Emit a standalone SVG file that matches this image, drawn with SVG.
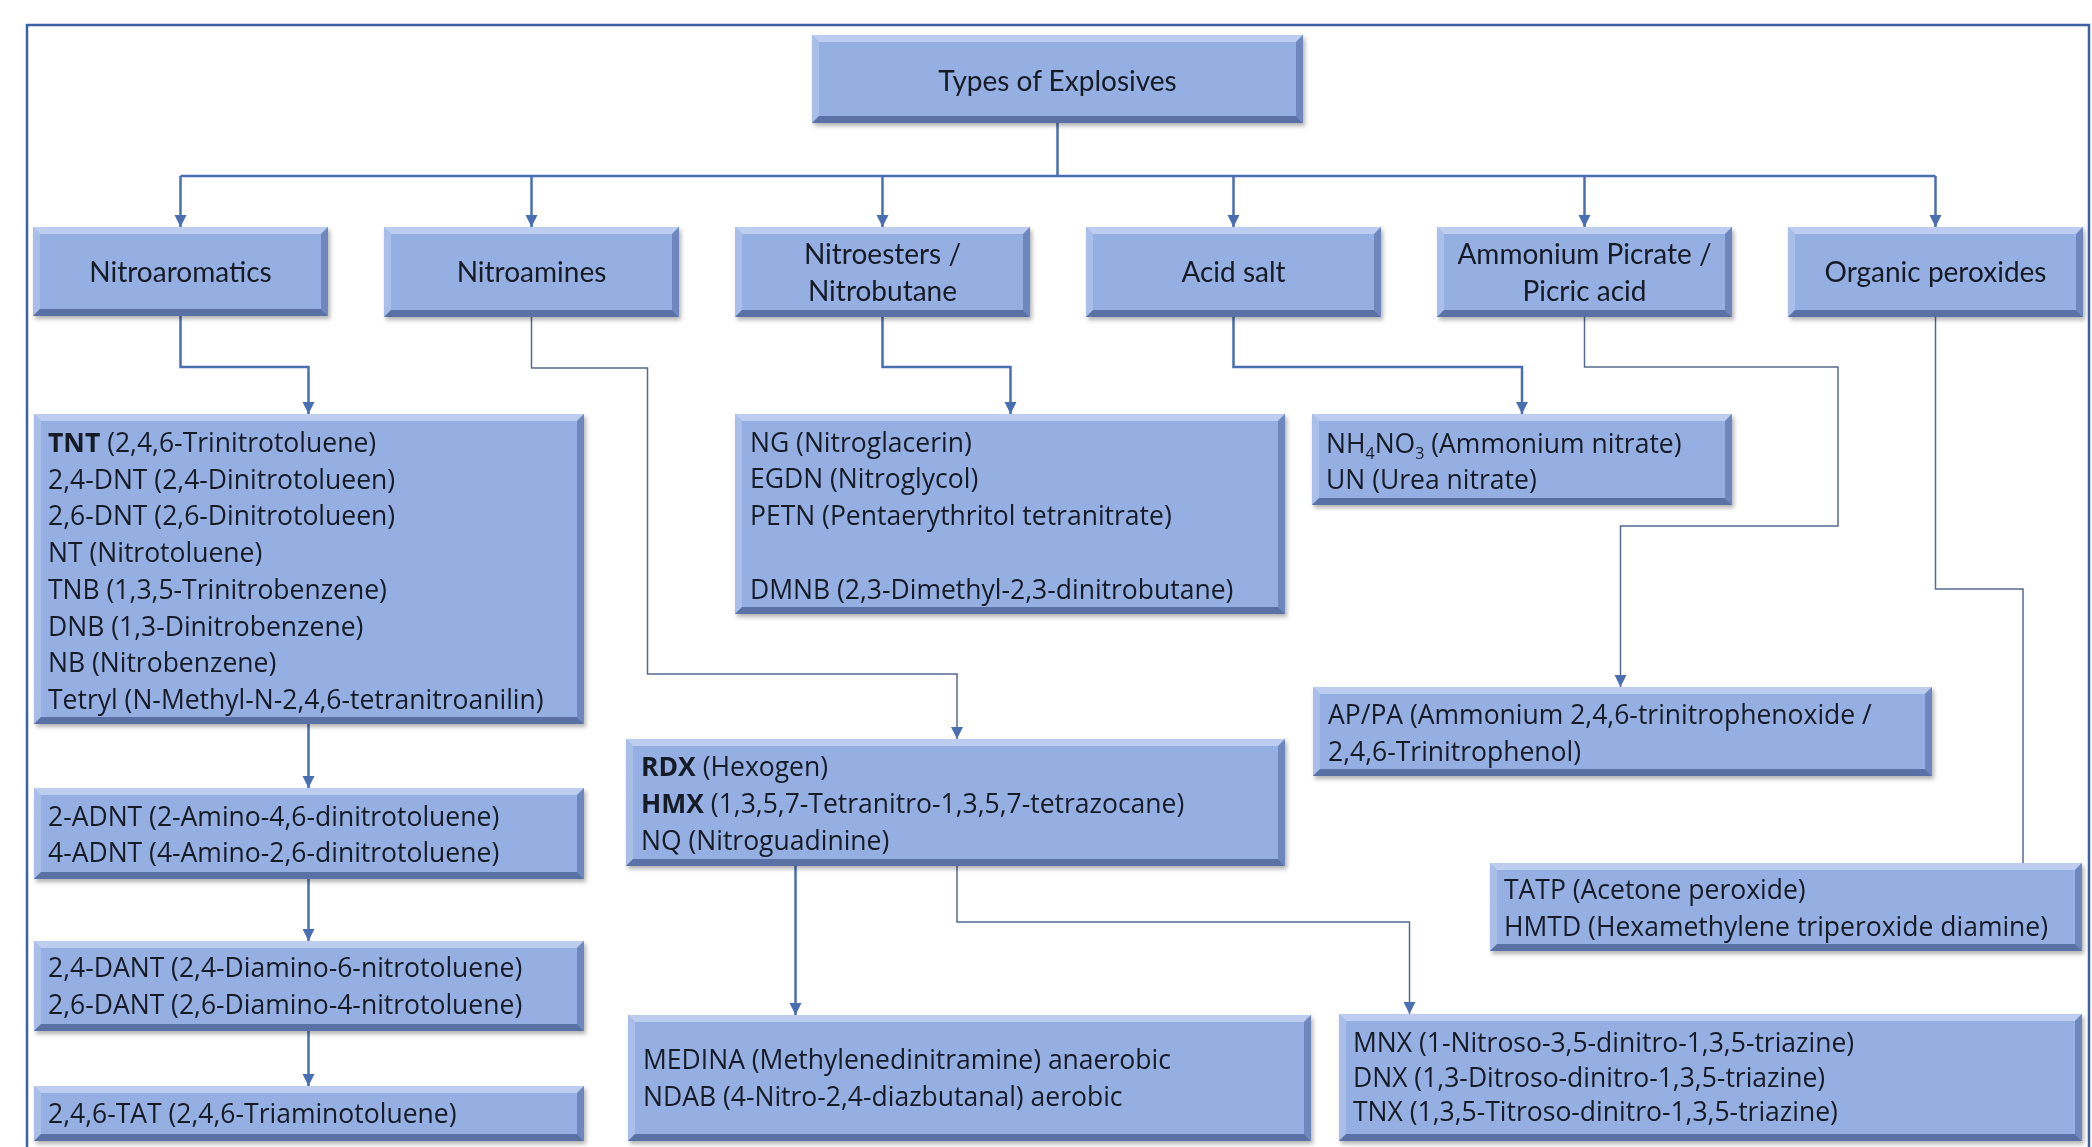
<svg xmlns="http://www.w3.org/2000/svg" width="2092" height="1147" viewBox="0 0 2092 1147">
<defs>
<style>
.bf{fill:#95afe3}
.bt{fill:#bccdf0}
.bl{fill:#a9bfea}
.br{fill:#6e88bf}
.bb{fill:#5a71a5}
.node{filter:url(#sh)}
text{font-family:Lato,"Liberation Sans",Arial,sans-serif;fill:#151a26}
.h{font-size:28px;text-anchor:middle}
.d{font-family:"Open Sans","Noto Sans","Liberation Sans",sans-serif;font-size:26.5px}
.b{font-weight:bold}
.sub{font-size:16px}
.thick{fill:none;stroke:#4a6fb0;stroke-width:2.5}
.thin{fill:none;stroke:#56698f;stroke-width:1.5}
</style>
<filter id="sh" x="-5%" y="-5%" width="110%" height="120%">
<feDropShadow dx="2" dy="3" stdDeviation="2" flood-color="#000" flood-opacity="0.3"/>
</filter>
</defs>
<rect width="2092" height="1147" fill="#ffffff"/>
<rect x="27" y="25" width="2062" height="1140" fill="none" stroke="#3d5fa3" stroke-width="2.5"/>

<g id="connectors">
<path class="thick" d="M1057.5 123 V176"/>
<path class="thick" d="M180.5 176 H1935.5"/>
<path class="thick" d="M180.5 176 V227"/>
<path class="thick" d="M531.5 176 V227"/>
<path class="thick" d="M882.5 176 V227"/>
<path class="thick" d="M1233.5 176 V227"/>
<path class="thick" d="M1584.5 176 V227"/>
<path class="thick" d="M1935.5 176 V227"/>
<path class="thick" d="M180.5 316 V367 H308.5 V414"/>
<path class="thick" d="M882.5 317 V367 H1010.5 V414"/>
<path class="thick" d="M1233.5 317 V367 H1522 V414"/>
<path class="thick" d="M308.5 724 V788"/>
<path class="thick" d="M308.5 879 V941"/>
<path class="thick" d="M308.5 1031 V1086"/>
<path class="thick" d="M795.5 866 V1015"/>
<path class="thin" d="M531.5 317 V368 H647.5 V674 H957 V739"/>
<path class="thin" d="M1584.5 317 V367 H1838 V526 H1620.5 V687"/>
<path class="thin" d="M1935.5 317 V589 H2023 V863"/>
<path class="thin" d="M957 866 V922 H1409.5 V1014"/>
<g fill="#4a6fb0">
<path d="M174.5 215 L186.5 215 L180.5 227 Z"/>
<path d="M525.5 215 L537.5 215 L531.5 227 Z"/>
<path d="M876.5 215 L888.5 215 L882.5 227 Z"/>
<path d="M1227.5 215 L1239.5 215 L1233.5 227 Z"/>
<path d="M1578.5 215 L1590.5 215 L1584.5 227 Z"/>
<path d="M1929.5 215 L1941.5 215 L1935.5 227 Z"/>
<path d="M302.5 402 L314.5 402 L308.5 414 Z"/>
<path d="M1004.5 402 L1016.5 402 L1010.5 414 Z"/>
<path d="M1516 402 L1528 402 L1522 414 Z"/>
<path d="M302.5 776 L314.5 776 L308.5 788 Z"/>
<path d="M302.5 929 L314.5 929 L308.5 941 Z"/>
<path d="M302.5 1074 L314.5 1074 L308.5 1086 Z"/>
<path d="M789.5 1003 L801.5 1003 L795.5 1015 Z"/>
<path d="M951 727 L963 727 L957 739 Z"/>
<path d="M1614.5 675 L1626.5 675 L1620.5 687 Z"/>
<path d="M1403.5 1002 L1415.5 1002 L1409.5 1014 Z"/>
</g>
</g>

<g id="root" class="node">
<rect class="bf" x="812" y="35" width="491" height="88"/>
<polygon class="bt" points="812,35 1303,35 1296,42 819,42"/>
<polygon class="bl" points="812,35 819,42 819,116 812,123"/>
<polygon class="br" points="1303,35 1303,123 1296,116 1296,42"/>
<polygon class="bb" points="812,123 1303,123 1296,116 819,116"/>
<text class="h" x="1057.5" y="91">Types of Explosives</text>
</g>

<g id="nitroaromatics" class="node">
<rect class="bf" x="33" y="227" width="295" height="89"/>
<polygon class="bt" points="33,227 328,227 321,234 40,234"/>
<polygon class="bl" points="33,227 40,234 40,309 33,316"/>
<polygon class="br" points="328,227 328,316 321,309 321,234"/>
<polygon class="bb" points="33,316 328,316 321,309 40,309"/>
<text class="h" x="180.5" y="282">Nitroaromatics</text>
</g>

<g id="nitroamines" class="node">
<rect class="bf" x="384" y="227" width="295" height="90"/>
<polygon class="bt" points="384,227 679,227 672,234 391,234"/>
<polygon class="bl" points="384,227 391,234 391,310 384,317"/>
<polygon class="br" points="679,227 679,317 672,310 672,234"/>
<polygon class="bb" points="384,317 679,317 672,310 391,310"/>
<text class="h" x="531.5" y="282">Nitroamines</text>
</g>

<g id="nitroesters" class="node">
<rect class="bf" x="735" y="227" width="295" height="90"/>
<polygon class="bt" points="735,227 1030,227 1023,234 742,234"/>
<polygon class="bl" points="735,227 742,234 742,310 735,317"/>
<polygon class="br" points="1030,227 1030,317 1023,310 1023,234"/>
<polygon class="bb" points="735,317 1030,317 1023,310 742,310"/>
<text class="h" x="882.5" y="264">Nitroesters /</text>
<text class="h" x="882.5" y="301">Nitrobutane</text>
</g>

<g id="acidsalt" class="node">
<rect class="bf" x="1086" y="227" width="295" height="90"/>
<polygon class="bt" points="1086,227 1381,227 1374,234 1093,234"/>
<polygon class="bl" points="1086,227 1093,234 1093,310 1086,317"/>
<polygon class="br" points="1381,227 1381,317 1374,310 1374,234"/>
<polygon class="bb" points="1086,317 1381,317 1374,310 1093,310"/>
<text class="h" x="1233.5" y="282">Acid salt</text>
</g>

<g id="picrate" class="node">
<rect class="bf" x="1437" y="227" width="295" height="90"/>
<polygon class="bt" points="1437,227 1732,227 1725,234 1444,234"/>
<polygon class="bl" points="1437,227 1444,234 1444,310 1437,317"/>
<polygon class="br" points="1732,227 1732,317 1725,310 1725,234"/>
<polygon class="bb" points="1437,317 1732,317 1725,310 1444,310"/>
<text class="h" x="1584.5" y="264">Ammonium Picrate /</text>
<text class="h" x="1584.5" y="301">Picric acid</text>
</g>

<g id="peroxides" class="node">
<rect class="bf" x="1788" y="227" width="295" height="90"/>
<polygon class="bt" points="1788,227 2083,227 2076,234 1795,234"/>
<polygon class="bl" points="1788,227 1795,234 1795,310 1788,317"/>
<polygon class="br" points="2083,227 2083,317 2076,310 2076,234"/>
<polygon class="bb" points="1788,317 2083,317 2076,310 1795,310"/>
<text class="h" x="1935.5" y="282">Organic peroxides</text>
</g>

<g id="tnt" class="node">
<rect class="bf" x="34" y="414" width="550" height="310"/>
<polygon class="bt" points="34,414 584,414 577,421 41,421"/>
<polygon class="bl" points="34,414 41,421 41,717 34,724"/>
<polygon class="br" points="584,414 584,724 577,717 577,421"/>
<polygon class="bb" points="34,724 584,724 577,717 41,717"/>
<text class="d" x="48" y="452"><tspan class="b">TNT</tspan> (2,4,6-Trinitrotoluene)</text>
<text class="d" x="48" y="488.7">2,4-DNT (2,4-Dinitrotolueen)</text>
<text class="d" x="48" y="525.4">2,6-DNT (2,6-Dinitrotolueen)</text>
<text class="d" x="48" y="562.1">NT (Nitrotoluene)</text>
<text class="d" x="48" y="598.8">TNB (1,3,5-Trinitrobenzene)</text>
<text class="d" x="48" y="635.5">DNB (1,3-Dinitrobenzene)</text>
<text class="d" x="48" y="672.2">NB (Nitrobenzene)</text>
<text class="d" x="48" y="709">Tetryl (N-Methyl-N-2,4,6-tetranitroanilin)</text>
</g>

<g id="adnt" class="node">
<rect class="bf" x="34" y="788" width="550" height="91"/>
<polygon class="bt" points="34,788 584,788 577,795 41,795"/>
<polygon class="bl" points="34,788 41,795 41,872 34,879"/>
<polygon class="br" points="584,788 584,879 577,872 577,795"/>
<polygon class="bb" points="34,879 584,879 577,872 41,872"/>
<text class="d" x="48" y="826">2-ADNT (2-Amino-4,6-dinitrotoluene)</text>
<text class="d" x="48" y="862">4-ADNT (4-Amino-2,6-dinitrotoluene)</text>
</g>

<g id="dant" class="node">
<rect class="bf" x="34" y="941" width="550" height="90"/>
<polygon class="bt" points="34,941 584,941 577,948 41,948"/>
<polygon class="bl" points="34,941 41,948 41,1024 34,1031"/>
<polygon class="br" points="584,941 584,1031 577,1024 577,948"/>
<polygon class="bb" points="34,1031 584,1031 577,1024 41,1024"/>
<text class="d" x="48" y="977">2,4-DANT (2,4-Diamino-6-nitrotoluene)</text>
<text class="d" x="48" y="1014">2,6-DANT (2,6-Diamino-4-nitrotoluene)</text>
</g>

<g id="tat" class="node">
<rect class="bf" x="34" y="1086" width="550" height="55"/>
<polygon class="bt" points="34,1086 584,1086 577,1093 41,1093"/>
<polygon class="bl" points="34,1086 41,1093 41,1134 34,1141"/>
<polygon class="br" points="584,1086 584,1141 577,1134 577,1093"/>
<polygon class="bb" points="34,1141 584,1141 577,1134 41,1134"/>
<text class="d" x="48" y="1123">2,4,6-TAT (2,4,6-Triaminotoluene)</text>
</g>

<g id="ng" class="node">
<rect class="bf" x="735" y="414" width="550" height="200"/>
<polygon class="bt" points="735,414 1285,414 1278,421 742,421"/>
<polygon class="bl" points="735,414 742,421 742,607 735,614"/>
<polygon class="br" points="1285,414 1285,614 1278,607 1278,421"/>
<polygon class="bb" points="735,614 1285,614 1278,607 742,607"/>
<text class="d" x="750" y="452">NG (Nitroglacerin)</text>
<text class="d" x="750" y="488">EGDN (Nitroglycol)</text>
<text class="d" x="750" y="525">PETN (Pentaerythritol tetranitrate)</text>
<text class="d" x="750" y="599">DMNB (2,3-Dimethyl-2,3-dinitrobutane)</text>
</g>

<g id="rdx" class="node">
<rect class="bf" x="626" y="739" width="659" height="127"/>
<polygon class="bt" points="626,739 1285,739 1278,746 633,746"/>
<polygon class="bl" points="626,739 633,746 633,859 626,866"/>
<polygon class="br" points="1285,739 1285,866 1278,859 1278,746"/>
<polygon class="bb" points="626,866 1285,866 1278,859 633,859"/>
<text class="d" x="641" y="776"><tspan class="b">RDX</tspan> (Hexogen)</text>
<text class="d" x="641" y="813"><tspan class="b">HMX</tspan> (1,3,5,7-Tetranitro-1,3,5,7-tetrazocane)</text>
<text class="d" x="641" y="850">NQ (Nitroguadinine)</text>
</g>

<g id="medina" class="node">
<rect class="bf" x="628" y="1015" width="683" height="126"/>
<polygon class="bt" points="628,1015 1311,1015 1304,1022 635,1022"/>
<polygon class="bl" points="628,1015 635,1022 635,1134 628,1141"/>
<polygon class="br" points="1311,1015 1311,1141 1304,1134 1304,1022"/>
<polygon class="bb" points="628,1141 1311,1141 1304,1134 635,1134"/>
<text class="d" x="643" y="1069">MEDINA (Methylenedinitramine) anaerobic</text>
<text class="d" x="643" y="1106">NDAB (4-Nitro-2,4-diazbutanal) aerobic</text>
</g>

<g id="nh4no3" class="node">
<rect class="bf" x="1312" y="414" width="420" height="91"/>
<polygon class="bt" points="1312,414 1732,414 1725,421 1319,421"/>
<polygon class="bl" points="1312,414 1319,421 1319,498 1312,505"/>
<polygon class="br" points="1732,414 1732,505 1725,498 1725,421"/>
<polygon class="bb" points="1312,505 1732,505 1725,498 1319,498"/>
<text class="d" x="1326" y="453">NH<tspan class="sub" dy="6">4</tspan><tspan dy="-6">NO</tspan><tspan class="sub" dy="6">3</tspan><tspan dy="-6"> (Ammonium nitrate)</tspan></text>
<text class="d" x="1326" y="489">UN (Urea nitrate)</text>
</g>

<g id="appa" class="node">
<rect class="bf" x="1313" y="687" width="619" height="89"/>
<polygon class="bt" points="1313,687 1932,687 1925,694 1320,694"/>
<polygon class="bl" points="1313,687 1320,694 1320,769 1313,776"/>
<polygon class="br" points="1932,687 1932,776 1925,769 1925,694"/>
<polygon class="bb" points="1313,776 1932,776 1925,769 1320,769"/>
<text class="d" x="1328" y="724">AP/PA (Ammonium 2,4,6-trinitrophenoxide /</text>
<text class="d" x="1328" y="761">2,4,6-Trinitrophenol)</text>
</g>

<g id="tatp" class="node">
<rect class="bf" x="1490" y="863" width="592" height="88"/>
<polygon class="bt" points="1490,863 2082,863 2075,870 1497,870"/>
<polygon class="bl" points="1490,863 1497,870 1497,944 1490,951"/>
<polygon class="br" points="2082,863 2082,951 2075,944 2075,870"/>
<polygon class="bb" points="1490,951 2082,951 2075,944 1497,944"/>
<text class="d" x="1504" y="899">TATP (Acetone peroxide)</text>
<text class="d" x="1504" y="936">HMTD (Hexamethylene triperoxide diamine)</text>
</g>

<g id="mnx" class="node">
<rect class="bf" x="1339" y="1014" width="743" height="127"/>
<polygon class="bt" points="1339,1014 2082,1014 2075,1021 1346,1021"/>
<polygon class="bl" points="1339,1014 1346,1021 1346,1134 1339,1141"/>
<polygon class="br" points="2082,1014 2082,1141 2075,1134 2075,1021"/>
<polygon class="bb" points="1339,1141 2082,1141 2075,1134 1346,1134"/>
<text class="d" x="1353" y="1052">MNX (1-Nitroso-3,5-dinitro-1,3,5-triazine)</text>
<text class="d" x="1353" y="1086.5">DNX (1,3-Ditroso-dinitro-1,3,5-triazine)</text>
<text class="d" x="1353" y="1121">TNX (1,3,5-Titroso-dinitro-1,3,5-triazine)</text>
</g>
</svg>
